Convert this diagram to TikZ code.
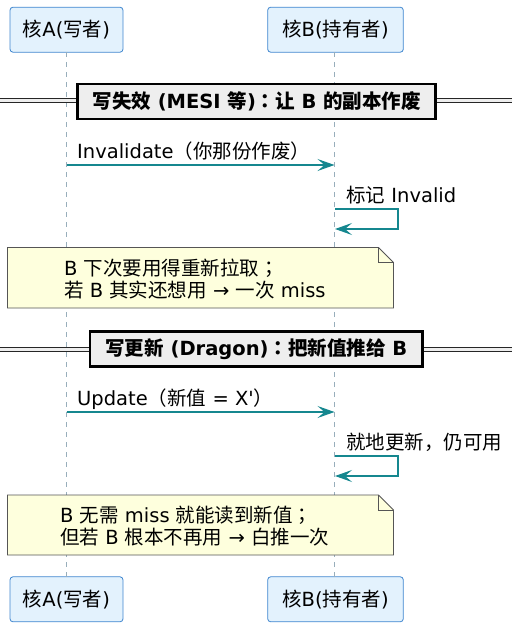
\documentclass[tikz,border=0pt]{standalone}
\usepackage{fontspec}
\setmainfont{DejaVu Sans}
\newfontfamily\dvs{DejaVu Sans}
\newfontfamily\cjk{Noto Sans CJK SC}
\newfontfamily\cjkb{Noto Sans CJK SC Bold}
\newfontfamily\cjkp{Noto Sans CJK TC}
\newfontfamily\cjkpb{Noto Sans CJK TC Bold}
\usetikzlibrary{arrows.meta}
\newcommand\zh[1]{{\cjk #1}}
\newcommand\zhb[1]{{\cjkb #1}}
\newcommand\zp[1]{{\cjkp #1}}
\newcommand\zpb[1]{{\cjkpb #1}}
\definecolor{partfill}{HTML}{E3F2FD}
\definecolor{partline}{HTML}{3F86CF}
\definecolor{lifec}{HTML}{98AEBB}
\definecolor{msgc}{HTML}{15878F}
\definecolor{notefill}{HTML}{FEFFDD}
\definecolor{noteline}{HTML}{555555}
\definecolor{divfill}{HTML}{EEEEEE}
\begin{document}
\begin{tikzpicture}[x=1pt,y=-1pt,
  every node/.style={font=\fontsize{19.5}{22}\selectfont, inner sep=0pt, text=black},
  part/.style={draw=partline, fill=partfill, rounded corners=3pt, minimum height=45pt, line width=0.8pt},
  life/.style={draw=lifec, line width=0.8pt, dash pattern=on 5pt off 5pt},
  msg/.style={draw=msgc, line width=1.3pt, -{Stealth[length=17pt,width=12pt,inset=7pt]}},
  notebox/.style={draw=noteline, fill=notefill, line width=0.8pt},
  divline/.style={draw=black!85, double=divfill, double distance=2.2pt, line width=1pt},
  divbox/.style={draw=black, fill=divfill, line width=2.5pt, minimum height=35pt, font=\fontsize{19.5}{22}\selectfont\bfseries},
  lbl/.style={anchor=west}]
\useasboundingbox (0,0) rectangle (521,629);
% participants
\node[part, minimum width=113pt] (pa) at (66.5,29.7) {\zh{核}A(\zh{写者})};
\node[part, minimum width=135.6pt] (pb) at (335.5,29.7) {\zh{核}B(\zh{持有者})};
\node[part, minimum width=113pt] (pa2) at (66.5,599.3) {\zh{核}A(\zh{写者})};
\node[part, minimum width=135.6pt] (pb2) at (335.5,599.3) {\zh{核}B(\zh{持有者})};
% lifelines
\coordinate (la) at (66.5,52);
\coordinate (la2) at (66.5,577);
\coordinate (lb) at (334.5,52);
\coordinate (lb2) at (334.5,577);
\draw[life] (la) -- (la2);
\draw[life] (lb) -- (lb2);
% divider 1
\coordinate (d1l) at (0,100.5);
\coordinate (d1r) at (512,100.5);
\draw[divline] (d1l) -- (d1r);
\node[divbox, minimum width=358pt] (d1) at (256.7,101.7) {\zhb{写失效} (MESI \zhb{等})\zpb{：}\zhb{让} B \zhb{的副本作废}};
% message 1
\coordinate (a1) at (66.5,165);
\coordinate (b1) at (334.5,165);
\draw[msg] (a1) -- (b1);
\node[lbl] (m1) at (77,151.5) {Invalidate\zh{（你那份作废）}};
% self 1
\coordinate (s1a) at (335,209);
\coordinate (s1b) at (335,229);
\draw[msg] (s1a) -- ++(63,0) |- (s1b);
\node[lbl] (m2) at (346,195) {\zh{标记} Invalid};
% note 1
\draw[notebox] (7.5,247.5) -- (378.5,247.5) -- (393.5,262.5) -- (393.5,308) -- (7.5,308) -- cycle;
\draw[noteline, line width=0.8pt] (378.5,247.5) -- (378.5,262.5) -- (393.5,262.5);
\node[lbl, align=left] (n1) at (64,279) {B \zh{下次要用得重新拉取}\zp{；}\\\zh{若} B \zh{其实还想用} → \zh{一次} miss};
% divider 2
\coordinate (d2l) at (0,349.5);
\coordinate (d2r) at (512,349.5);
\draw[divline] (d2l) -- (d2r);
\node[divbox, minimum width=332.7pt] (d2) at (256.3,349) {\zhb{写更新} (Dragon)\zpb{：}\zhb{把新值推给} B};
% message 2
\coordinate (a2) at (66.5,412);
\coordinate (b2) at (334.5,412);
\draw[msg] (a2) -- (b2);
\node[lbl] (m3) at (77,399) {Update\zh{（新值} = X{\dvs '}\zh{）}};
% self 2
\coordinate (s2a) at (335,456);
\coordinate (s2b) at (335,476);
\draw[msg] (s2a) -- ++(63,0) |- (s2b);
\node[lbl] (m4) at (346,442.7) {\zh{就地更新，仍可用}};
% note 2
\draw[notebox] (7.5,495) -- (378.5,495) -- (393.5,510) -- (393.5,555) -- (7.5,555) -- cycle;
\draw[noteline, line width=0.8pt] (378.5,495) -- (378.5,510) -- (393.5,510);
\node[lbl, align=left] (n2) at (60,526.5) {B \zh{无需} miss \zh{就能读到新值}\zp{；}\\\zh{但若} B \zh{根本不再用} → \zh{白推一次}};
\end{tikzpicture}
\end{document}
